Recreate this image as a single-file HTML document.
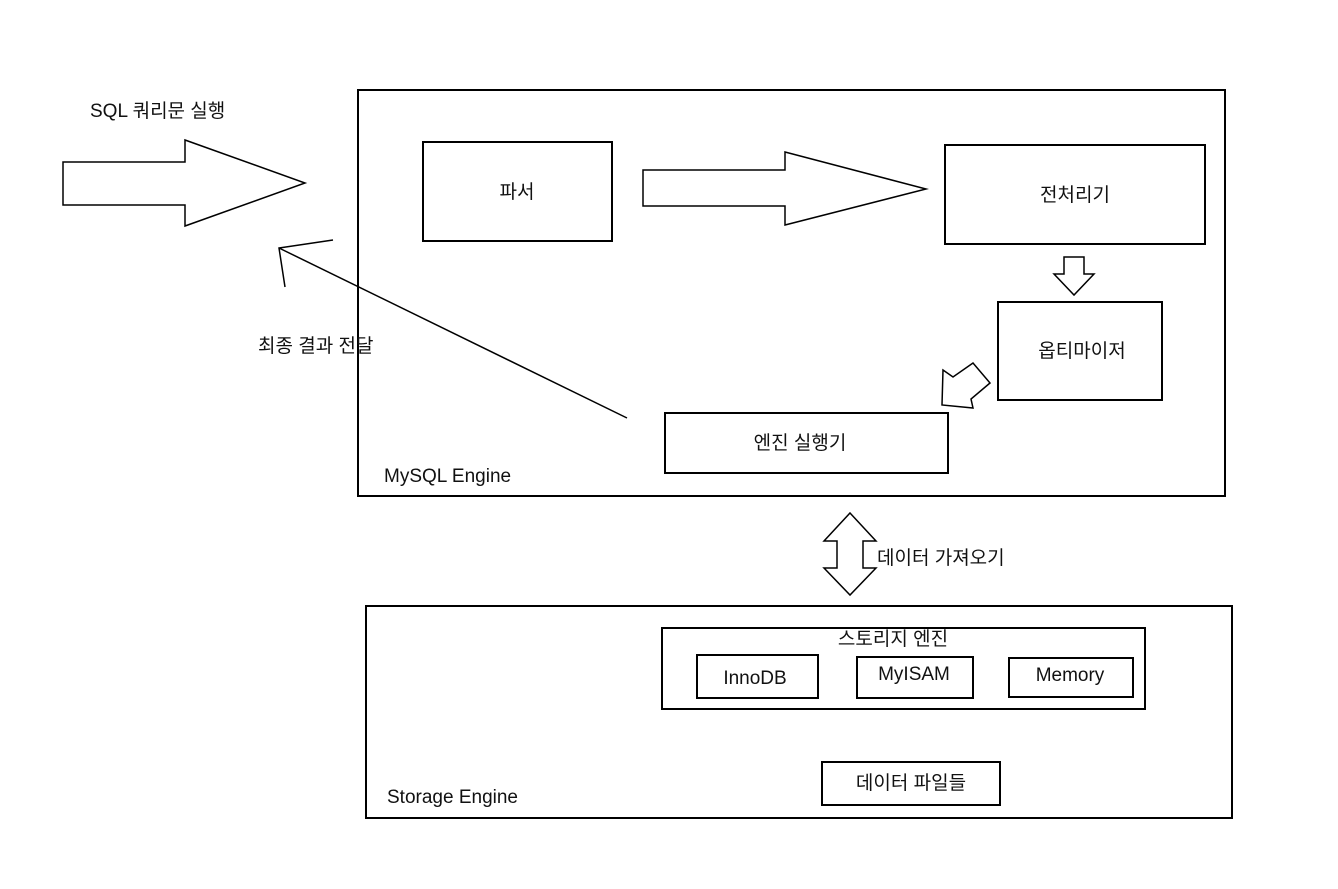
<!DOCTYPE html>
<html><head><meta charset="utf-8"><style>
body{margin:0;background:#fff;width:1338px;height:884px;overflow:hidden}
text{font-family:"Liberation Sans","Noto Sans CJK KR","NanumGothic",sans-serif;fill:#111}
</style></head><body>
<svg width="1338" height="884" viewBox="0 0 1338 884" xmlns="http://www.w3.org/2000/svg">
<g fill="none" stroke="#000" stroke-width="2">
<rect x="358" y="90" width="867" height="406"/>
<rect x="423" y="142" width="189" height="99"/>
<rect x="945" y="145" width="260" height="99"/>
<rect x="998" y="302" width="164" height="98"/>
<rect x="665" y="413" width="283" height="60"/>
<rect x="366" y="606" width="866" height="212"/>
<rect x="662" y="628" width="483" height="81"/>
<rect x="697" y="655" width="121" height="43"/>
<rect x="857" y="657" width="116" height="41"/>
<rect x="1009" y="658" width="124" height="39"/>
<rect x="822" y="762" width="178" height="43"/>
</g>
<g fill="#fff" stroke="#000" stroke-width="1.5">
<polygon points="63,162 185,162 185,140 305,183 185,226 185,205 63,205"/>
<polygon points="643,170 785,170 785,152 926,189 785,225 785,206 643,206"/>
<polygon points="1064,257 1084,257 1084,274 1094,274 1074,295 1054,274 1064,274"/>
<polygon points="943,370 953,377 973,363 990,383 971,399 973,408 942,405"/>
<polygon points="850,513 876,541 863,541 863,568 876,568 850,595 824,568 837,568 837,541 824,541"/>
</g>
<g stroke="#000" stroke-width="1.5" fill="none">
<line x1="627" y1="418" x2="279" y2="248"/>
<polyline points="333,240 279,248 285,287"/>
</g>
<g font-size="19">
<text x="90" y="117">SQL 쿼리문 실행</text>
<text x="258" y="352">최종 결과 전달</text>
<text x="517" y="198" text-anchor="middle">파서</text>
<text x="1075" y="201" text-anchor="middle">전처리기</text>
<text x="1082" y="357" text-anchor="middle">옵티마이저</text>
<text x="800" y="449" text-anchor="middle">엔진 실행기</text>
<text x="384" y="482">MySQL Engine</text>
<text x="877" y="564">데이터 가져오기</text>
<text x="893" y="645" text-anchor="middle">스토리지 엔진</text>
<text x="755" y="684" text-anchor="middle">InnoDB</text>
<text x="914" y="680" text-anchor="middle">MyISAM</text>
<text x="1070" y="681" text-anchor="middle">Memory</text>
<text x="911" y="789" text-anchor="middle">데이터 파일들</text>
<text x="387" y="803">Storage Engine</text>
</g>
</svg>
</body></html>
